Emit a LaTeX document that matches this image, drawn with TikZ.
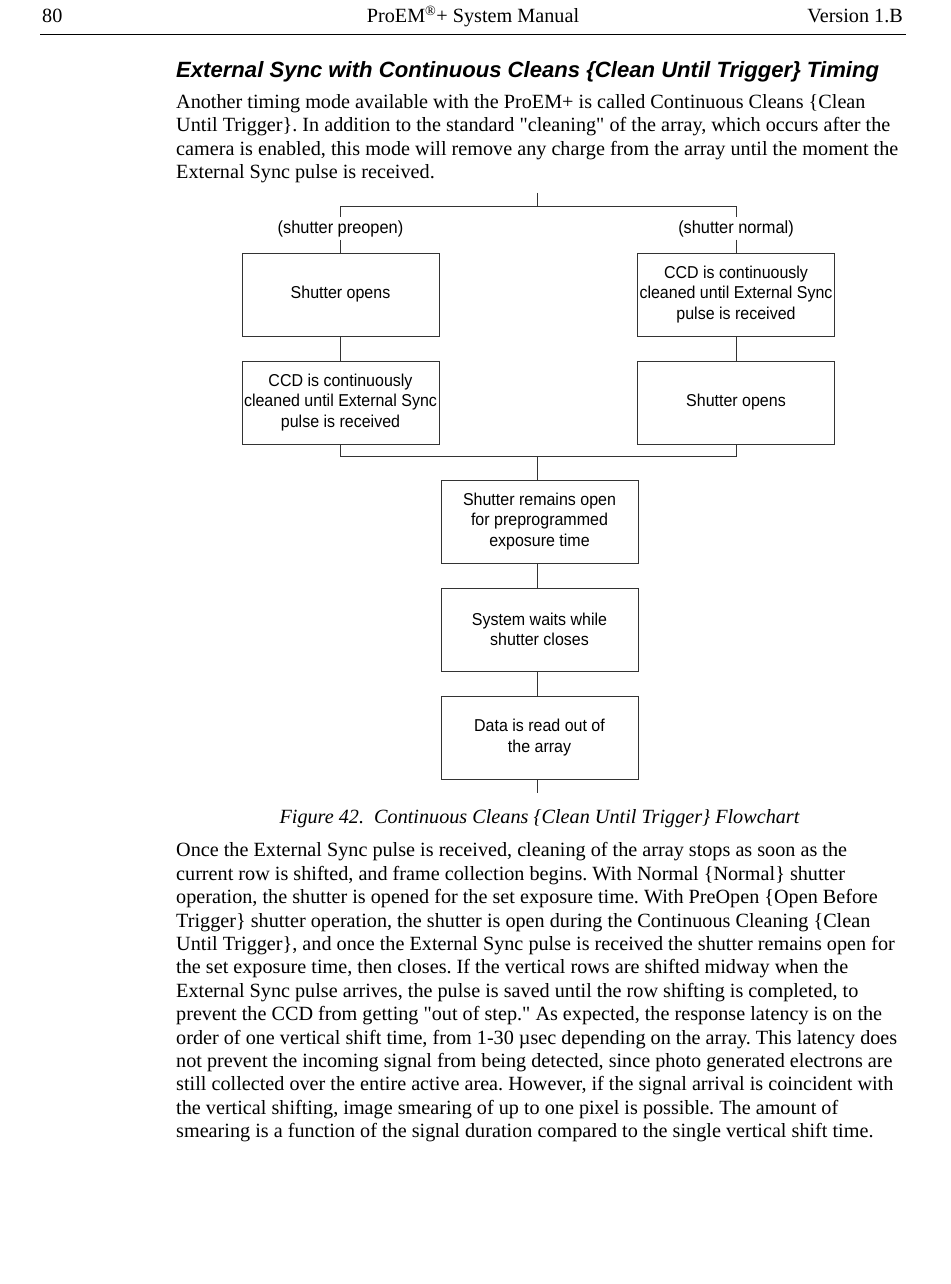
\documentclass[tikz,border=0pt]{standalone}
\usepackage{fontspec}
\setmainfont[Ligatures=TeXOff]{Liberation Serif}
\newfontfamily\arialfont{Liberation Sans}
\newfontfamily\flowfont[FakeStretch=0.93]{Liberation Sans}
\frenchspacing
\begin{document}
\frenchspacing
\begin{tikzpicture}[x=1pt,y=-1pt,
  bodytext/.style={anchor=base west, inner sep=0pt, font=\fontsize{20.2}{23.4}\selectfont},
  flowbox/.style={draw=black!80, line width=0.9pt, minimum width=197pt, minimum height=83pt,
    align=center, inner sep=0pt, font=\flowfont\fontsize{17.2}{20.5}\selectfont},
  flowlabel/.style={inner sep=0pt, minimum height=22pt, font=\flowfont\fontsize{17.6}{20.5}\selectfont},
  conn/.style={draw=black!80, line width=0.9pt}]
\useasboundingbox (0,0) rectangle (950,1284);
\fill[white] (0,0) rectangle (950,1284);
% header
\node[anchor=base west, inner sep=0pt, font=\fontsize{20.2}{24}\selectfont] (pg) at (42,23) {80};
\node[anchor=base, inner sep=0pt, font=\fontsize{20.2}{24}\selectfont] (hd) at (473,23) {ProEM\textsuperscript{\textregistered}+ System Manual};
\node[anchor=base east, inner sep=0pt, font=\fontsize{20.2}{24}\selectfont] (ver) at (903,23) {Version 1.B};
\coordinate (rl) at (40,34.5);
\coordinate (rr) at (906,34.5);
\draw[line width=1.4pt] (rl) -- (rr);
% title
\node[anchor=base west, inner sep=0pt, font=\arialfont\bfseries\itshape\fontsize{22.1}{24}\selectfont] (title) at (176,77.3) {External Sync with Continuous Cleans \{Clean Until Trigger\} Timing};
% paragraph 1
\node[bodytext] (p1a) at (176,108.3) {Another timing mode available with the ProEM+ is called Continuous Cleans \{Clean};
\node[bodytext] (p1b) at (176,131.7) {Until Trigger\}. In addition to the standard "cleaning" of the array, which occurs after the};
\node[bodytext] (p1c) at (176,155.1) {camera is enabled, this mode will remove any charge from the array until the moment the};
\node[bodytext] (p1d) at (176,178.5) {External Sync pulse is received.};
% flowchart
\node[flowbox] (L1) at (340.5,294.5) {Shutter opens};
\node[flowbox] (L2) at (340.5,402.5) {CCD is continuously\\cleaned until External Sync\\pulse is received};
\node[flowbox] (R1) at (736,294.5) {CCD is continuously\\cleaned until External Sync\\pulse is received};
\node[flowbox] (R2) at (736,402.5) {Shutter opens};
\node[flowbox] (C1) at (539.5,521.5) {Shutter remains open\\for preprogrammed\\exposure time};
\node[flowbox] (C2) at (539.5,629.5) {System waits while\\shutter closes};
\node[flowbox] (C3) at (539.5,737.5) {Data is read out of\\the array};
\node[flowlabel] (lblL) at (340.5,228.5) {(shutter preopen)};
\node[flowlabel] (lblR) at (736,228.5) {(shutter normal)};
\coordinate (top) at (537,193);
\coordinate (split) at (537,206);
\coordinate (merge) at (537,456);
\coordinate (endc) at (537,793);
\draw[conn] (top) -- (split);
\draw[conn] (split) -| (lblL.north);
\draw[conn] (split) -| (lblR.north);
\draw[conn] (lblL.south) -- (L1.north);
\draw[conn] (lblR.south) -- (R1.north);
\draw[conn] (L1.south) -- (L2.north);
\draw[conn] (R1.south) -- (R2.north);
\draw[conn] (L2.south) |- (merge);
\draw[conn] (R2.south) |- (merge);
\draw[conn] (merge) -- (merge |- C1.north);
\draw[conn] (endc |- C1.south) -- (endc |- C2.north);
\draw[conn] (endc |- C2.south) -- (endc |- C3.north);
\draw[conn] (endc |- C3.south) -- (endc);
% caption
\node[anchor=base, inner sep=0pt, font=\itshape\fontsize{20.2}{24}\selectfont] (cap) at (539.5,823.3) {Figure 42.\ \ Continuous Cleans \{Clean Until Trigger\} Flowchart};
% paragraph 2
\node[bodytext] (q1) at (176,856.9) {Once the External Sync pulse is received, cleaning of the array stops as soon as the};
\node[bodytext] (q2) at (176,880.3) {current row is shifted, and frame collection begins. With Normal \{Normal\} shutter};
\node[bodytext] (q3) at (176,903.7) {operation, the shutter is opened for the set exposure time. With PreOpen \{Open Before};
\node[bodytext] (q4) at (176,927.1) {Trigger\} shutter operation, the shutter is open during the Continuous Cleaning \{Clean};
\node[bodytext] (q5) at (176,950.5) {Until Trigger\}, and once the External Sync pulse is received the shutter remains open for};
\node[bodytext] (q6) at (176,973.9) {the set exposure time, then closes. If the vertical rows are shifted midway when the};
\node[bodytext] (q7) at (176,997.3) {External Sync pulse arrives, the pulse is saved until the row shifting is completed, to};
\node[bodytext] (q8) at (176,1020.7) {prevent the CCD from getting "out of step." As expected, the response latency is on the};
\node[bodytext] (q9) at (176,1044.1) {order of one vertical shift time, from 1-30 µsec depending on the array. This latency does};
\node[bodytext] (q10) at (176,1067.5) {not prevent the incoming signal from being detected, since photo generated electrons are};
\node[bodytext] (q11) at (176,1090.9) {still collected over the entire active area. However, if the signal arrival is coincident with};
\node[bodytext] (q12) at (176,1114.3) {the vertical shifting, image smearing of up to one pixel is possible. The amount of};
\node[bodytext] (q13) at (176,1137.7) {smearing is a function of the signal duration compared to the single vertical shift time.};
\end{tikzpicture}
\end{document}
